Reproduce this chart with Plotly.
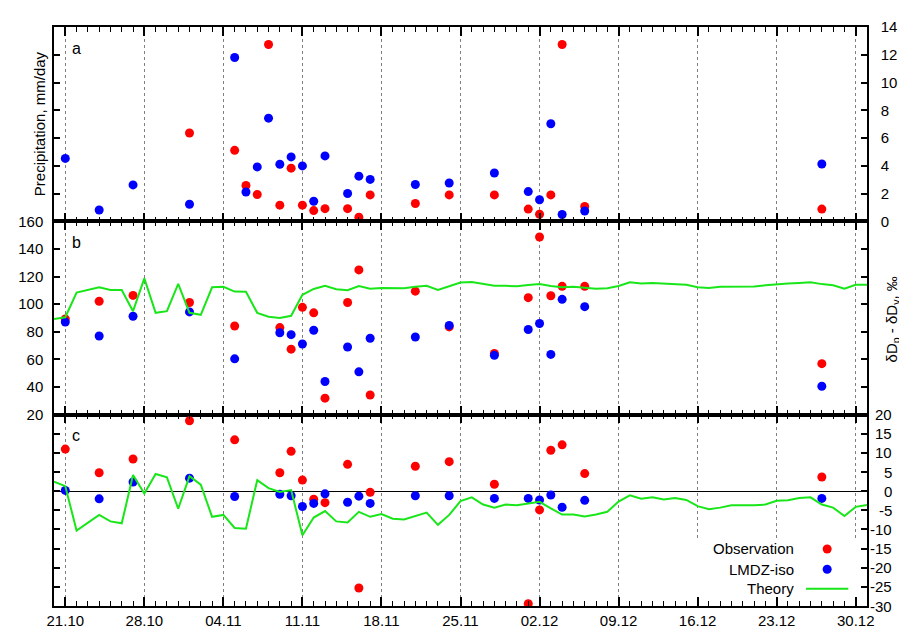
import pandas as pd
import plotly.graph_objects as go
from plotly.subplots import make_subplots

# ==========================================
# DATA
# ==========================================
obs_dates = ['2012-10-21', '2012-10-24', '2012-10-27', '2012-11-01', '2012-11-05',
             '2012-11-06', '2012-11-07', '2012-11-08', '2012-11-09', '2012-11-10',
             '2012-11-11', '2012-11-12', '2012-11-13', '2012-11-15', '2012-11-16',
             '2012-11-17', '2012-11-21', '2012-11-24', '2012-11-28', '2012-12-01',
             '2012-12-02', '2012-12-03', '2012-12-04', '2012-12-06', '2012-12-27']

# a) precipitation, mm/day
precip_obs = [None, None, None, 6.36, 5.11, 2.58, 1.93, 12.74, 1.16, 3.83,
              1.16, 0.77, 0.91, 0.91, 0.30, 1.90, 1.28, 1.90, 1.90, 0.88,
              0.51, 1.90, 12.74, 1.07, 0.88]
precip_lmdz = [4.53, 0.81, 2.62, 1.23, 11.8, 2.11, 3.92, 7.43, 4.11, 4.64,
               3.99, 1.44, 4.71, 2.00, 3.25, 3.02, 2.65, 2.76, 3.48, 2.14,
               1.55, 7.03, 0.49, 0.74, 4.13]

# b) dDp - dDv
dd_obs = [89.3, 102.1, 106.3, 101.2, 84.2, None, None, None, 83.0, 67.4,
          97.7, 93.7, 31.9, 101.2, 124.8, 34.2, 109.4, 83.5, 64.3, 104.7,
          148.6, 106.1, 112.9, 112.9, 56.9]
dd_lmdz = [87.0, 76.9, 91.2, 94.4, 60.4, None, None, None, 79.3, 77.9,
           71.1, 81.1, 44.0, 69.0, 51.0, 75.3, 76.2, 84.6, 62.9, 81.6,
           86.0, 63.6, 103.5, 98.2, 40.5]

# c) second isotope quantity
c_obs = [11.0, 4.8, 8.4, 18.4, 13.4, None, None, None, 4.8, 10.4,
         2.9, -2.1, -3.0, 7.0, -25.3, -0.3, 6.5, 7.7, 1.8, -29.4,
         -4.9, 10.7, 12.1, 4.6, 3.7]
c_lmdz = [0.2, -2.0, 2.4, 3.4, -1.4, None, None, None, -0.8, -1.2,
          -4.0, -3.2, -0.7, -2.9, -1.3, -3.2, -1.2, -1.2, -1.9, -1.9,
          -2.3, -1.0, -4.2, -2.4, -1.9]

# daily theory curves, 20.10 - 31.12
theory_dates = pd.date_range('2012-10-20', '2012-12-31', freq='D')
dd_theory = [89.3, 90.5, 108.4, 110.3, 112.2, 110.3, 110.3, 94.9, 118.7, 93.7,
             94.9, 114.7, 93.7, 92.3, 112.2, 112.6, 109.1, 108.9, 93.7, 90.9,
             90.0, 91.6, 106.8, 111.0, 113.3, 110.8, 110.1, 113.1, 111.2, 111.7,
             111.5, 111.5, 112.6, 113.3, 110.3, 113.1, 115.7, 116.1, 114.5, 113.3,
             113.3, 112.9, 113.8, 114.5, 113.1, 112.2, 112.6, 111.7, 111.2, 111.5,
             113.1, 115.9, 115.0, 115.4, 115.0, 114.5, 114.0, 112.2, 111.7, 112.6,
             112.8, 112.8, 112.8, 113.6, 114.5, 115.0, 115.4, 115.9, 114.5, 113.6,
             111.2, 114.0, 114.0]
c_theory = [2.5, 1.3, -10.3, -8.2, -6.2, -7.9, -8.4, 4.2, -0.6, 4.5,
            3.6, -4.6, 3.9, 1.7, -6.7, -6.2, -9.6, -9.8, 2.9, 0.8,
            -0.2, 0.3, -11.5, -6.9, -5.2, -7.9, -8.2, -5.4, -6.7, -6.0,
            -7.2, -7.4, -6.4, -5.6, -8.8, -6.2, -2.6, -1.6, -3.5, -4.3,
            -3.5, -3.7, -3.2, -2.8, -4.5, -6.1, -6.1, -6.6, -6.1, -5.4,
            -2.7, -1.1, -2.0, -1.6, -2.2, -1.8, -2.3, -3.9, -4.7, -4.3,
            -3.7, -3.7, -3.7, -3.5, -2.5, -2.4, -1.8, -1.6, -3.5, -4.3,
            -6.5, -4.1, -3.6]

c_ticks = [20, 15, 10, 5, 0, -5, -10, -15, -20, -25, -30]
panel_letters = ['a', 'b', 'c']
legend_names = ['Observation', 'LMDZ-iso', 'Theory']

RED = '#ff0000'
BLUE = '#0000ff'
GREEN = '#19e619'
FONT = 'Liberation Sans'
DAY_MS = 86400000

# ==========================================
# FIGURE
# ==========================================
fig = make_subplots(rows=3, cols=1, shared_xaxes=True, vertical_spacing=0,
                    row_heights=[201, 200, 198])

panels = [(1, precip_obs, precip_lmdz, None),
          (2, dd_obs, dd_lmdz, dd_theory),
          (3, c_obs, c_lmdz, c_theory)]
for row, obs, lmdz, theory in panels:
    fig.add_trace(go.Scatter(x=obs_dates, y=obs, mode='markers', name=legend_names[0],
                             marker=dict(color=RED, size=9), showlegend=False),
                  row=row, col=1)
    fig.add_trace(go.Scatter(x=obs_dates, y=lmdz, mode='markers', name=legend_names[1],
                             marker=dict(color=BLUE, size=9), showlegend=False),
                  row=row, col=1)
    if theory is not None:
        fig.add_trace(go.Scatter(x=theory_dates, y=theory, mode='lines', name=legend_names[2],
                                 line=dict(color=GREEN, width=2), showlegend=False),
                      row=row, col=1)

# --- axes ---
fig.update_xaxes(type='date', range=['2012-10-20', '2012-12-31'],
                 tick0='2012-10-21', dtick=7 * DAY_MS, tickformat='%d.%m',
                 ticks='inside', ticklen=9, tickwidth=1.5, tickcolor='black',
                 showline=True, linecolor='black', linewidth=1.5, mirror='ticks',
                 showgrid=True, gridcolor='#808080', griddash='dot', gridwidth=1,
                 minor=dict(ticks='inside', ticklen=5, tickwidth=1.2, tickcolor='black',
                            dtick=DAY_MS, tick0='2012-10-21', showgrid=False),
                 tickfont=dict(family=FONT, size=15, color='black'),
                 zeroline=False)
fig.update_xaxes(showticklabels=False, row=1, col=1)
fig.update_xaxes(showticklabels=False, row=2, col=1)

yax = dict(ticks='inside', ticklen=6, tickwidth=1.5, tickcolor='black',
           showline=True, linecolor='black', linewidth=1.5, mirror='ticks',
           showgrid=False, zeroline=False,
           tickfont=dict(family=FONT, size=15, color='black'))
fig.update_yaxes(range=[0, 14], dtick=2, side='right', ticklabelstandoff=9,
                 row=1, col=1, **yax)
fig.update_yaxes(range=[20, 160], dtick=20, side='left', ticklabelstandoff=6,
                 row=2, col=1, **yax)
fig.update_yaxes(range=[-30, 20], dtick=5, side='right', showticklabels=False,
                 row=3, col=1, **yax)
fig.update_yaxes(zeroline=True, zerolinecolor='black', zerolinewidth=1.2, row=3, col=1)

# right-aligned tick labels of panel c
for v in c_ticks:
    fig.add_annotation(x=1, xref='paper', xshift=27, xanchor='right',
                       y=v, yref='y3', yanchor='middle', text=str(v), showarrow=False,
                       font=dict(family=FONT, size=15, color='black'))

# axis titles
fig.add_annotation(x=0, xref='paper', xshift=-15, xanchor='center',
                   y=0.8322, yref='paper', yanchor='middle',
                   text='Precipitation, mm/day', textangle=-90, showarrow=False,
                   font=dict(family=FONT, size=15, color='black'))
fig.add_annotation(x=1, xref='paper', xshift=25, xanchor='center',
                   y=0.495, yref='paper', yanchor='middle',
                   text='δD<sub>p</sub> - δD<sub>v</sub>, ‰', textangle=-90, showarrow=False,
                   font=dict(family=FONT, size=15, color='black'))

# panel letters (paper y of each panel top)
panel_tops = [1.0, 0.6644, 0.3306]
for letter, top in zip(panel_letters, panel_tops):
    fig.add_annotation(x=0, xref='paper', xshift=16, xanchor='left',
                       y=top, yref='paper', yshift=-21, yanchor='middle',
                       text=letter, showarrow=False,
                       font=dict(family=FONT, size=16, color='black'))

# legend box (blanks the grid lines like gnuplot does)
fig.add_shape(type='rect', xref='x3', yref='y3',
              x0='2012-12-15 05:00', x1='2012-12-31', y0=-30, y1=-12.6,
              fillcolor='white', line=dict(width=0), layer='between')

leg_y = [0.0985, 0.0634, 0.0300]   # paper y of legend rows
for name, ly in zip(legend_names, leg_y):
    fig.add_annotation(x=0.913, xref='paper', xanchor='right',
                       y=ly, yref='paper', yanchor='middle', text=name,
                       showarrow=False, font=dict(family=FONT, size=15, color='black'))
for color, ly in zip([RED, BLUE], leg_y[:2]):
    fig.add_shape(type='circle', xref='paper', yref='paper',
                  xsizemode='pixel', ysizemode='pixel', xanchor=0.951, yanchor=ly,
                  x0=-4.5, x1=4.5, y0=-4.5, y1=4.5, fillcolor=color, line=dict(width=0))
fig.add_shape(type='line', xref='paper', yref='paper',
              x0=0.925, x1=0.977, y0=leg_y[2], y1=leg_y[2],
              line=dict(color=GREEN, width=2))

# the page body adds an 8 px margin, so the figure is 8 px smaller
fig.update_layout(width=899, height=631,
                  margin=dict(l=31, r=34, t=10, b=22),
                  plot_bgcolor='white', paper_bgcolor='white',
                  showlegend=False,
                  font=dict(family=FONT, size=15, color='black'))

fig.write_html("out.html")
